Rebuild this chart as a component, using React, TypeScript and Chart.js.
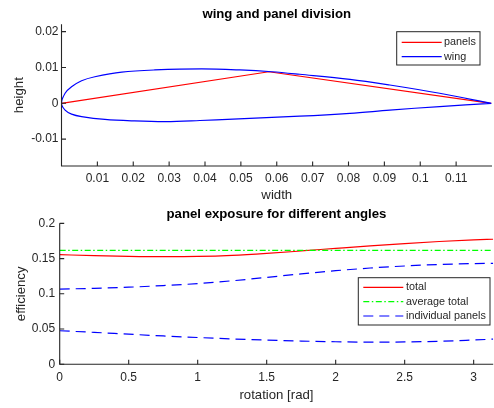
import React, { useEffect, useRef } from "react";
import { Chart, registerables } from "chart.js";

Chart.register(...registerables);

const FONT = "'Liberation Sans', Arial, Helvetica, sans-serif";
const AXIS_COLOR = "#262626";

// ---------- top subplot data ----------
const WING_X = [
  0.1198, 0.1054, 0.0915, 0.0804, 0.0664, 0.0586, 0.0497, 0.0391, 0.026, 0.0168, 0.0093, 0.0056, 0.0028, 0.001, 0,
  0.001, 0.0028, 0.0056, 0.0121, 0.0199, 0.0291, 0.0386, 0.0478, 0.0664, 0.0804, 0.0915, 0.1054, 0.1198,
];
const WING_Y = [
  0, 0.0028, 0.0051, 0.0067, 0.0081, 0.0088, 0.0093, 0.0096, 0.0093, 0.0087, 0.0074, 0.0063, 0.0046, 0.0028, 0,
  -0.0019, -0.003, -0.0037, -0.0045, -0.0049, -0.0051, -0.0048, -0.0044, -0.0036, -0.0028, -0.0019, -0.0009, 0,
];
const PANEL_X = [0, 0.0578, 0.1198];
const PANEL_Y = [0, 0.0088, 0];
const TOP_X_TICKS = [0.01, 0.02, 0.03, 0.04, 0.05, 0.06, 0.07, 0.08, 0.09, 0.1, 0.11];
const TOP_X_LABELS = ["0.01", "0.02", "0.03", "0.04", "0.05", "0.06", "0.07", "0.08", "0.09", "0.1", "0.11"];
const TOP_Y_TICKS = [-0.01, 0, 0.01, 0.02];
const TOP_Y_LABELS = ["-0.01", "0", "0.01", "0.02"];
const TOP_LEGEND = ["panels", "wing"];

// ---------- bottom subplot data ----------
const ROTATION = [0, 0.25, 0.5, 0.75, 1, 1.25, 1.5, 1.75, 2, 2.25, 2.5, 2.75, 3, 3.1416];
const TOTAL = [0.1555, 0.1542, 0.1532, 0.1527, 0.153, 0.1545, 0.1573, 0.1608, 0.1645, 0.1681, 0.1713, 0.1742, 0.1765, 0.1774];
const AVERAGE_TOTAL = 0.1615;
const PANEL_1 = [0.1068, 0.1078, 0.1094, 0.1117, 0.1145, 0.1185, 0.1233, 0.1283, 0.1328, 0.1366, 0.1395, 0.1416, 0.1429, 0.1433];
const PANEL_2 = [0.0476, 0.0453, 0.0427, 0.0402, 0.038, 0.036, 0.0343, 0.033, 0.032, 0.0315, 0.0317, 0.0326, 0.0345, 0.0357];
const BOT_X_TICKS = [0, 0.5, 1, 1.5, 2, 2.5, 3];
const BOT_X_LABELS = ["0", "0.5", "1", "1.5", "2", "2.5", "3"];
const BOT_Y_TICKS = [0, 0.05, 0.1, 0.15, 0.2];
const BOT_Y_LABELS = ["0", "0.05", "0.1", "0.15", "0.2"];
const BOT_LEGEND = ["total", "average total", "individual panels"];

const RED = "#ff0000";
const GREEN = "#00ff00";
const BLUE = "#0000ff";
const DASH_DOT = [6, 2.5, 1.5, 2.5];
const DASHED = [10, 6];
const LINE_W = 1.2;

const matlabPlugin = {
  id: "matlab",
  afterDraw(chart: any, _args: any, opts: any) {
    const { ctx, chartArea: a } = chart;
    const xs = chart.scales.x;
    const ys = chart.scales.y;
    ctx.save();
    ctx.strokeStyle = AXIS_COLOR;
    ctx.lineWidth = 1.1;
    ctx.setLineDash([]);
    ctx.beginPath();
    ctx.moveTo(a.left, a.top);
    ctx.lineTo(a.left, a.bottom);
    ctx.lineTo(a.right, a.bottom);
    ctx.stroke();
    ctx.beginPath();
    for (const t of xs.ticks) {
      const p = xs.getPixelForValue(t.value);
      ctx.moveTo(p, a.bottom);
      ctx.lineTo(p, a.bottom - 4.5);
    }
    for (const t of ys.ticks) {
      const p = ys.getPixelForValue(t.value);
      ctx.moveTo(a.left, p);
      ctx.lineTo(a.left + 4.5, p);
    }
    ctx.stroke();
    const L = opts && opts.legend;
    if (L) {
      ctx.lineWidth = 1;
      ctx.fillStyle = "#ffffff";
      ctx.fillRect(L.x, L.y, L.w, L.h);
      ctx.strokeStyle = AXIS_COLOR;
      ctx.strokeRect(L.x, L.y, L.w, L.h);
      ctx.font = `10.8px ${FONT}`;
      ctx.textBaseline = "middle";
      ctx.textAlign = "left";
      L.items.forEach((it: any, i: number) => {
        const y = L.rowY + i * L.rowH;
        ctx.strokeStyle = it.color;
        ctx.lineWidth = LINE_W;
        ctx.setLineDash(it.dash);
        ctx.beginPath();
        ctx.moveTo(L.lineX0, y);
        ctx.lineTo(L.lineX1, y);
        ctx.stroke();
        ctx.setLineDash([]);
        ctx.fillStyle = AXIS_COLOR;
        ctx.fillText(it.label, L.textX, y);
      });
    }
    ctx.restore();
  },
};

function axis(opts: {
  min: number;
  max: number;
  ticks: number[];
  labels: string[];
  title: string;
  size: number;
  padding: number;
  horizontal: boolean;
}) {
  return {
    type: "linear",
    min: opts.min,
    max: opts.max,
    grid: { display: false, drawTicks: false },
    border: { display: false },
    afterBuildTicks: (s: any) => {
      s.ticks = opts.ticks.map((v) => ({ value: v }));
    },
    afterFit: (s: any) => {
      if (opts.horizontal) s.height = opts.size;
      else s.width = opts.size;
    },
    ticks: {
      autoSkip: false,
      maxRotation: 0,
      minRotation: 0,
      padding: opts.padding,
      color: AXIS_COLOR,
      font: { family: FONT, size: 12 },
      callback: (v: any) => {
        const i = opts.ticks.findIndex((t) => Math.abs(t - v) < 1e-9);
        return i >= 0 ? opts.labels[i] : "";
      },
    },
    title: {
      display: true,
      text: opts.title,
      color: AXIS_COLOR,
      font: { family: FONT, size: 13.2 },
      padding: { top: 0, bottom: 0 },
    },
  };
}

function topConfig(): any {
  return {
    type: "line",
    data: {
      datasets: [
        {
          label: TOP_LEGEND[1],
          data: WING_X.map((x, i) => ({ x, y: WING_Y[i] })),
          borderColor: BLUE,
          borderWidth: LINE_W,
          pointRadius: 0,
          tension: 0.35,
          fill: false,
        },
        {
          label: TOP_LEGEND[0],
          data: PANEL_X.map((x, i) => ({ x, y: PANEL_Y[i] })),
          borderColor: RED,
          borderWidth: LINE_W,
          pointRadius: 0,
          tension: 0,
          fill: false,
        },
      ],
    },
    options: {
      responsive: false,
      animation: false,
      devicePixelRatio: 1,
      layout: { padding: { left: 11.7, right: 2, top: 0, bottom: 0.5 } },
      scales: {
        x: axis({ min: 0, max: 0.12, ticks: TOP_X_TICKS, labels: TOP_X_LABELS, title: "width", size: 37.5, padding: 5.8, horizontal: true }),
        y: axis({ min: -0.01748, max: 0.02202, ticks: TOP_Y_TICKS, labels: TOP_Y_LABELS, title: "height", size: 49.8, padding: 3, horizontal: false }),
      },
      plugins: {
        legend: { display: false },
        tooltip: { enabled: false },
        title: {
          display: true,
          fullSize: false,
          text: "wing and panel division",
          color: "#000000",
          font: { family: FONT, size: 13.2, weight: "bold" },
          padding: { top: 6.2, bottom: 2.3 },
        },
        matlab: {
          legend: {
            x: 396.7, y: 31.7, w: 83.3, h: 33.3,
            rowY: 42.3, rowH: 14.4,
            lineX0: 401.7, lineX1: 441.7, textX: 444,
            items: [
              { label: TOP_LEGEND[0], color: RED, dash: [] },
              { label: TOP_LEGEND[1], color: BLUE, dash: [] },
            ],
          },
        },
      },
    },
    plugins: [matlabPlugin],
  };
}

function bottomConfig(): any {
  const line = (label: string, ys: number[], color: string, dash: number[]) => ({
    label,
    data: ROTATION.map((x, i) => ({ x, y: ys[i] })),
    borderColor: color,
    borderWidth: LINE_W,
    borderDash: dash,
    pointRadius: 0,
    cubicInterpolationMode: "monotone",
    fill: false,
  });
  return {
    type: "line",
    data: {
      datasets: [
        line(BOT_LEGEND[2], PANEL_2, BLUE, DASHED),
        line(BOT_LEGEND[2], PANEL_1, BLUE, DASHED),
        {
          label: BOT_LEGEND[1],
          data: [
            { x: ROTATION[0], y: AVERAGE_TOTAL },
            { x: ROTATION[ROTATION.length - 1], y: AVERAGE_TOTAL },
          ],
          borderColor: GREEN,
          borderWidth: LINE_W,
          borderDash: DASH_DOT,
          pointRadius: 0,
          fill: false,
        },
        line(BOT_LEGEND[0], TOTAL, RED, []),
      ],
    },
    options: {
      responsive: false,
      animation: false,
      devicePixelRatio: 1,
      layout: { padding: { left: 13.7, right: 0.8, top: 0, bottom: 4.7 } },
      scales: {
        x: axis({ min: 0, max: Math.PI, ticks: BOT_X_TICKS, labels: BOT_X_LABELS, title: "rotation [rad]", size: 39, padding: 6.5, horizontal: true }),
        y: axis({ min: 0, max: 0.2, ticks: BOT_Y_TICKS, labels: BOT_Y_LABELS, title: "efficiency", size: 46, padding: 4.5, horizontal: false }),
      },
      plugins: {
        legend: { display: false },
        tooltip: { enabled: false },
        title: {
          display: true,
          fullSize: false,
          text: "panel exposure for different angles",
          color: "#000000",
          font: { family: FONT, size: 13.2, weight: "bold" },
          padding: { top: 2.2, bottom: 1.3 },
        },
        matlab: {
          legend: {
            x: 358.3, y: 73.7, w: 131.7, h: 47.3,
            rowY: 83.3, rowH: 14.35,
            lineX0: 363.3, lineX1: 403.3, textX: 406,
            items: [
              { label: BOT_LEGEND[0], color: RED, dash: [] },
              { label: BOT_LEGEND[1], color: GREEN, dash: DASH_DOT },
              { label: BOT_LEGEND[2], color: BLUE, dash: DASHED },
            ],
          },
        },
      },
    },
    plugins: [matlabPlugin],
  };
}

export default function App() {
  const topRef = useRef<HTMLCanvasElement>(null);
  const botRef = useRef<HTMLCanvasElement>(null);
  useEffect(() => {
    const c1 = new Chart(topRef.current as HTMLCanvasElement, topConfig());
    const c2 = new Chart(botRef.current as HTMLCanvasElement, bottomConfig());
    return () => {
      c1.destroy();
      c2.destroy();
    };
  }, []);
  return (
    <div style={{ position: "fixed", left: 0, top: 0, width: 494, height: 408, background: "#ffffff" }}>
      <canvas ref={topRef} width={494} height={204} style={{ position: "absolute", left: 0, top: 0, width: 494, height: 204 }} />
      <canvas ref={botRef} width={494} height={204} style={{ position: "absolute", left: 0, top: 204, width: 494, height: 204 }} />
    </div>
  );
}
